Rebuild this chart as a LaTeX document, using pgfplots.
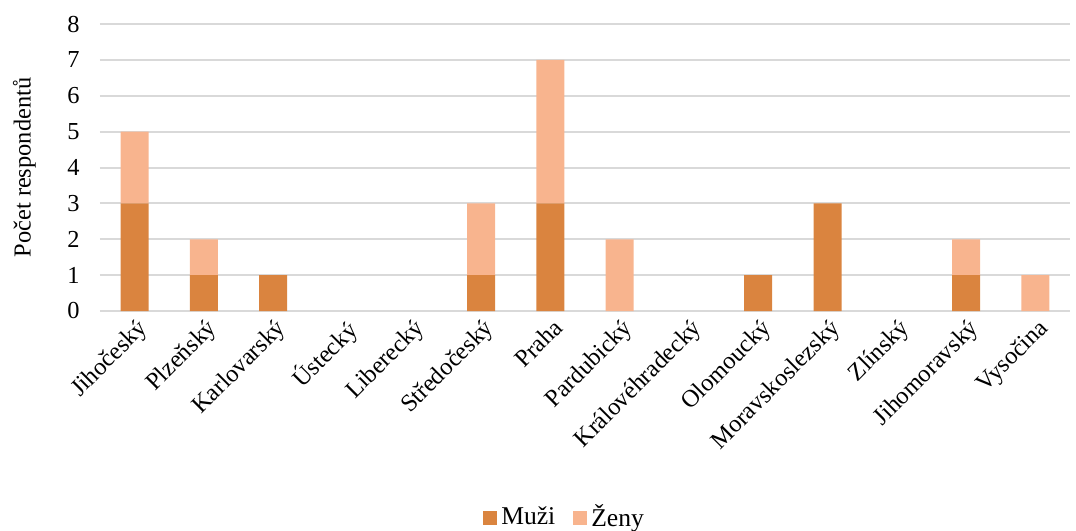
\documentclass[border=0pt]{standalone}
\usepackage{pgfplots}
\pgfplotsset{compat=1.18}
\usepackage{fontspec}
\setmainfont{Liberation Serif}
\definecolor{muzi}{HTML}{DA843F}
\definecolor{zeny}{HTML}{F8B48E}
\definecolor{gridc}{HTML}{D9D9D9}
\begin{document}
\fontsize{12.2}{14.6}\selectfont
\begin{tikzpicture}
\path[use as bounding box] (-50pt,-109.5pt) rectangle (488pt,155.5pt);
\begin{axis}[
  at={(0,0)}, anchor=south west,
  scale only axis, width=485pt, height=143.5pt,
  ybar stacked, bar width=0.404,
  xmin=-0.5, xmax=13.5, ymin=0, ymax=8,
  ytick={0,...,8},
  xtick={0,...,13},
  xticklabels={Jihočeský,Plzeňský,Karlovarský,Ústecký,Liberecký,Středočeský,Praha,Pardubický,Královéhradecký,Olomoucký,Moravskoslezský,Zlínský,Jihomoravský,Vysočina},
  xticklabel style={rotate=45, anchor=north east, inner sep=1pt, xshift=-0.6pt, yshift=-1.6pt, font=\fontsize{12.2}{14.6}\selectfont},
  yticklabel style={xshift=-6pt, font=\fontsize{12.2}{14.6}\selectfont},
  /pgf/number format/assume math mode=true,
  axis line style={draw=none},
  ymajorgrids, grid style={gridc, line width=1pt},
  major tick length=0pt,
  ylabel={Počet respondentů},
  ylabel style={at={(axis description cs:-0.078,0.5)}, anchor=center, font=\fontsize{12.2}{14.6}\selectfont},
  legend columns=2,
  legend style={at={(axis description cs:0.48,-0.72)}, anchor=center, draw=none, font=\fontsize{12.8}{15}\selectfont, /tikz/every even column/.append style={column sep=7pt}},
  legend image code/.code={\fill[#1] (0pt,-3.5pt) rectangle (7pt,3.5pt);},
  clip=false,
]
\addplot[fill=muzi, draw=none] coordinates {(0,3) (1,1) (2,1) (3,0) (4,0) (5,1) (6,3) (7,0) (8,0) (9,1) (10,3) (11,0) (12,1) (13,0)};
\addplot[fill=zeny, draw=none] coordinates {(0,2) (1,1) (2,0) (3,0) (4,0) (5,2) (6,4) (7,2) (8,0) (9,0) (10,0) (11,0) (12,1) (13,1)};
\legend{Muži,Ženy}
\end{axis}
\end{tikzpicture}
\end{document}
